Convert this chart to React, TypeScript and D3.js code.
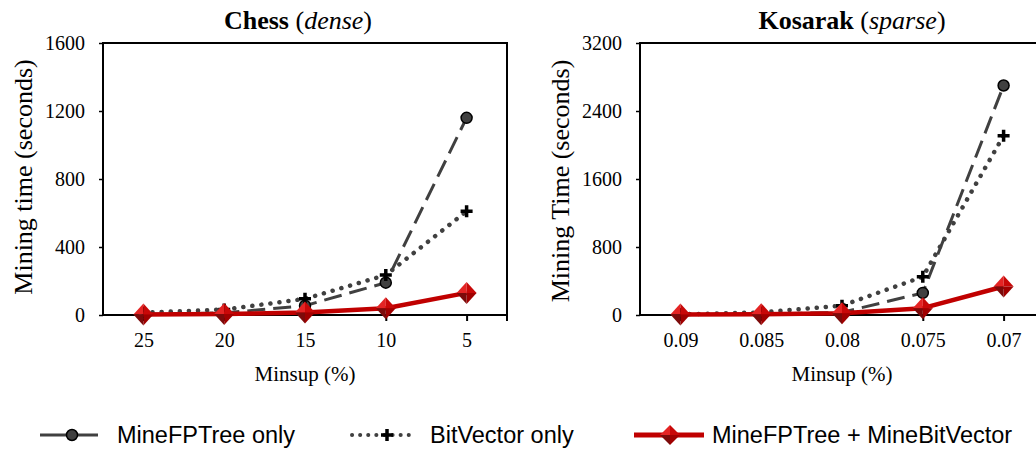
import { useRef, useEffect } from 'react';
import * as d3 from 'd3';

// Chess (dense)
const chessCats = ['25', '20', '15', '10', '5'];
const chessMineFP = [5, 12, 55, 190, 1160];
const chessBitVec = [14, 32, 95, 235, 610];
const chessCombined = [3, 6, 15, 40, 130];
const chessTicks = [0, 400, 800, 1200, 1600];

// Kosarak (sparse)
const kosCats = ['0.09', '0.085', '0.08', '0.075', '0.07'];
const kosMineFP = [5, 10, 30, 260, 2700];
const kosBitVec = [8, 30, 110, 450, 2110];
const kosCombined = [5, 10, 20, 80, 335];
const kosTicks = [0, 800, 1600, 2400, 3200];

const legendLabels = ['MineFPTree only', 'BitVector only', 'MineFPTree + MineBitVector'];

const SERIF = '"Liberation Serif", "Times New Roman", serif';
const SANS = '"Liberation Sans", Arial, sans-serif';
const GRAY = '#404040';
const RED = '#c00000';

const diamond = (g, cx, cy, hw = 10, hh = 11) => {
  const facets = [
    { pts: [[cx, cy - hh], [cx - hw, cy], [cx, cy]], fill: '#e42424' },
    { pts: [[cx, cy - hh], [cx + hw, cy], [cx, cy]], fill: '#c80808' },
    { pts: [[cx + hw, cy], [cx, cy + hh], [cx, cy]], fill: '#a00000' },
    { pts: [[cx - hw, cy], [cx, cy + hh], [cx, cy]], fill: '#7c0a0a' },
  ];
  facets.forEach(f => {
    g.append('path')
      .attr('d', 'M' + f.pts.map(p => p.join(',')).join('L') + 'Z')
      .attr('fill', f.fill);
  });
};

const plus = (g, cx, cy, s = 6) => {
  g.append('path')
    .attr('d', `M${cx - s},${cy}H${cx + s}M${cx},${cy - s}V${cy + s}`)
    .attr('stroke', '#000')
    .attr('stroke-width', 3.5)
    .attr('fill', 'none');
};

const drawPanel = (svg, p) => {
  const g = svg.append('g');
  const top = 43;
  const bottom = 315;

  const x = d3.scalePoint().domain(p.cats).range([p.x0, p.x1]).padding(0.5);
  const y = d3.scaleLinear().domain([0, p.ticks[p.ticks.length - 1]]).range([bottom, top]);

  // y axis
  const ya = g.append('g')
    .attr('transform', `translate(${p.x0},0)`)
    .call(d3.axisLeft(y).tickValues(p.ticks).tickFormat(d3.format('d')).tickSize(4).tickPadding(14));
  ya.select('.domain').remove();
  ya.selectAll('line').attr('stroke', '#000').attr('stroke-width', 1.5);
  ya.selectAll('text')
    .style('font-family', SERIF)
    .style('font-size', '20px')
    .attr('fill', '#000');

  // x ticks + labels
  const xa = g.append('g')
    .attr('transform', `translate(0,${bottom})`)
    .call(d3.axisBottom(x).tickSize(6).tickPadding(12));
  xa.select('.domain').remove();
  xa.selectAll('line').attr('stroke', '#000').attr('stroke-width', 2);
  xa.selectAll('text')
    .style('font-family', SERIF)
    .style('font-size', '20px')
    .attr('fill', '#000');
  g.append('line')
    .attr('x1', p.x1).attr('x2', p.x1)
    .attr('y1', bottom).attr('y2', bottom + 6)
    .attr('stroke', '#000').attr('stroke-width', 2);

  // frame
  g.append('rect')
    .attr('x', p.x0).attr('y', top)
    .attr('width', p.x1 - p.x0).attr('height', bottom - top)
    .attr('fill', 'none').attr('stroke', '#000').attr('stroke-width', 2);

  const line = d3.line().x((d, i) => x(p.cats[i])).y(d => y(d));

  // MineFPTree only
  g.append('path').datum(p.mineFP)
    .attr('d', line)
    .attr('fill', 'none').attr('stroke', GRAY)
    .attr('stroke-width', 3).attr('stroke-dasharray', '18,8');
  p.mineFP.forEach((d, i) => {
    g.append('circle')
      .attr('cx', x(p.cats[i])).attr('cy', y(d)).attr('r', 5.5)
      .attr('fill', GRAY).attr('stroke', '#000').attr('stroke-width', 1.5);
  });

  // BitVector only
  g.append('path').datum(p.bitVec)
    .attr('d', line)
    .attr('fill', 'none').attr('stroke', GRAY)
    .attr('stroke-width', 4.5).attr('stroke-linecap', 'round')
    .attr('stroke-dasharray', '0.1,9');
  p.bitVec.forEach((d, i) => plus(g, x(p.cats[i]), y(d)));

  // Combined
  g.append('path').datum(p.combined)
    .attr('d', line)
    .attr('fill', 'none').attr('stroke', RED)
    .attr('stroke-width', 4.5).attr('stroke-linejoin', 'round');
  p.combined.forEach((d, i) => diamond(g, x(p.cats[i]), y(d)));

  // title
  const t = g.append('text')
    .attr('x', p.titleX).attr('y', 29)
    .attr('text-anchor', 'middle')
    .style('font-family', SERIF).style('font-size', '26px');
  t.append('tspan').attr('font-weight', 'bold').text(p.title);
  t.append('tspan').text(' (');
  t.append('tspan').attr('font-style', 'italic').text(p.sub);
  t.append('tspan').text(')');

  // axis titles
  g.append('text')
    .attr('transform', `translate(${p.ylabX},${p.ylabY}) rotate(-90)`)
    .attr('text-anchor', 'middle')
    .attr('dy', '0.35em')
    .style('font-family', SERIF).style('font-size', '26px')
    .text(p.ylab);
  g.append('text')
    .attr('x', (p.x0 + p.x1) / 2).attr('y', 381)
    .attr('text-anchor', 'middle')
    .style('font-family', SERIF).style('font-size', '21px')
    .text('Minsup (%)');
};

const App = () => {
  const svgRef = useRef(null);

  useEffect(() => {
    const svg = d3.select(svgRef.current);
    svg.selectAll('*').remove();

    drawPanel(svg, {
      cats: chessCats, mineFP: chessMineFP, bitVec: chessBitVec, combined: chessCombined,
      ticks: chessTicks, x0: 103, x1: 507, title: 'Chess', sub: 'dense', titleX: 298,
      ylab: 'Mining time (seconds)', ylabX: 23, ylabY: 177,
    });
    drawPanel(svg, {
      cats: kosCats, mineFP: kosMineFP, bitVec: kosBitVec, combined: kosCombined,
      ticks: kosTicks, x0: 640, x1: 1044, title: 'Kosarak', sub: 'sparse', titleX: 852,
      ylab: 'Mining Time (seconds)', ylabX: 560, ylabY: 181,
    });

    // legend
    const lg = svg.append('g');
    const ly = 435;
    lg.append('line').attr('x1', 40).attr('x2', 98).attr('y1', ly).attr('y2', ly)
      .attr('stroke', GRAY).attr('stroke-width', 3);
    lg.append('circle').attr('cx', 72).attr('cy', ly).attr('r', 5.5)
      .attr('fill', GRAY).attr('stroke', '#000').attr('stroke-width', 1.5);

    lg.append('line').attr('x1', 352).attr('x2', 416).attr('y1', ly).attr('y2', ly)
      .attr('stroke', GRAY).attr('stroke-width', 4).attr('stroke-linecap', 'round')
      .attr('stroke-dasharray', '0.1,8');
    plus(lg, 387, ly);

    lg.append('line').attr('x1', 634).attr('x2', 704).attr('y1', ly).attr('y2', ly)
      .attr('stroke', RED).attr('stroke-width', 5);
    diamond(lg, 670, ly, 10, 10);

    [117, 430, 712].forEach((lx, i) => {
      lg.append('text')
        .attr('x', lx).attr('y', ly).attr('dy', '0.35em')
        .style('font-family', SANS).style('font-size', '23.5px')
        .text(legendLabels[i]);
    });
  }, []);

  return (
    <svg
      ref={svgRef}
      width={1036}
      height={449}
      style={{ position: 'absolute', left: 0, top: 0, background: '#fff' }}
    />
  );
};

export default App;
